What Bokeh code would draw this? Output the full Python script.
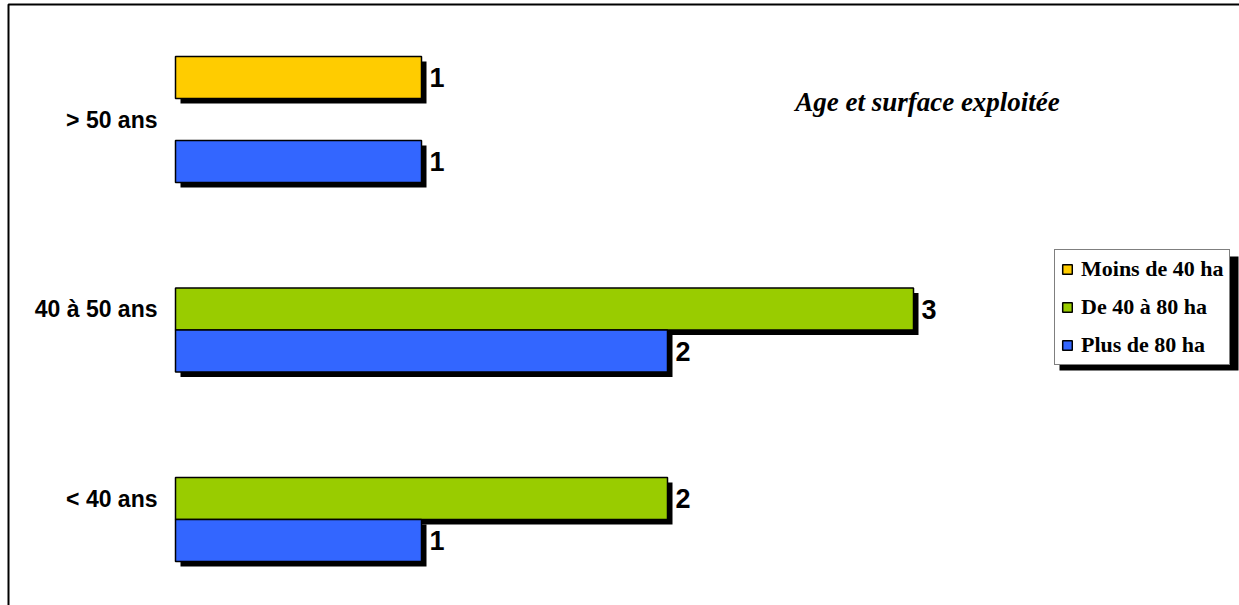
from bokeh.plotting import figure
from bokeh.models import ColumnDataSource, Range1d, Legend, LegendItem, Label
from bokeh.core.properties import value
from bokeh.embed import file_html
from bokeh.resources import INLINE

# ---- data ----
categories = ["< 40 ans", "40 à 50 ans", "> 50 ans"]
series_names = ["Moins de 40 ha", "De 40 à 80 ha", "Plus de 80 ha"]
moins_40 = [0, 0, 1]
de_40_80 = [2, 3, 0]
plus_80 = [1, 2, 1]
series_colors = ["#FFCC00", "#99CC00", "#3366FF"]
title_text = "Age et surface exploitée"

# ---- layout constants (pixels) ----
W, H = 1239, 605
X0, SX = 175.0, 246.0      # pixel of value 0, pixels per unit
Y0, SY = 498.0, 189.5      # pixel of first category centre, pixels per category


def px2x(px):
    return (px - X0) / SX


def py2y(py):
    return (Y0 - py) / SY


BAR_H = 42.0 / SY
offsets = [BAR_H, 0.0, -BAR_H]
SDX, SDY = 5.0 / SX, 5.0 / SY

p = figure(width=W, height=H,
           x_range=Range1d(px2x(0), px2x(W)),
           y_range=Range1d(py2y(H), py2y(0)),
           output_backend="svg", toolbar_location=None,
           min_border=0, x_axis_location=None, y_axis_location=None,
           outline_line_color=None, background_fill_color="white",
           border_fill_color="white")
p.grid.grid_line_color = None

# outer frame (top and left edges visible)
p.quad(left=px2x(8), right=px2x(W + 40), top=py2y(4), bottom=py2y(H + 40),
       fill_color=None, line_color="black", line_width=2)

items = []
for name, vals, col, off in zip(series_names, [moins_40, de_40_80, plus_80],
                                series_colors, offsets):
    ys = [i + off for i, v in enumerate(vals) if v > 0]
    vs = [v for v in vals if v > 0]
    src = ColumnDataSource(dict(
        y=ys, v=vs,
        sy=[y - SDY for y in ys],
        sr=[v + SDX for v in vs],
        lbl=[str(v) for v in vs]))
    p.hbar(y="sy", left=SDX, right="sr", height=BAR_H, source=src,
           fill_color="black", line_color=None)
    r = p.hbar(y="y", left=0, right="v", height=BAR_H, source=src,
               fill_color=col, line_color="black", line_width=1.5)
    p.text(x="v", y="y", text="lbl", source=src, x_offset=8,
           text_baseline="middle", text_align="left",
           text_font=value("Liberation Sans"), text_font_style="bold",
           text_font_size="27px", text_color="black")
    items.append(LegendItem(label=name, renderers=[r]))

# category labels
p.text(x=[0] * len(categories), y=list(range(len(categories))), text=categories,
       x_offset=-18, text_align="right", text_baseline="middle",
       text_font=value("Liberation Sans"), text_font_style="bold",
       text_font_size="23px", text_color="black")

# title
p.add_layout(Label(x=px2x(927), y=py2y(101), text=title_text,
                   text_align="center", text_baseline="alphabetic",
                   text_font="Liberation Serif", text_font_style="bold italic",
                   text_font_size="27px", text_color="black"))

# legend shadow
LEG_L, LEG_T, LEG_R, LEG_B = 1054, 251, 1233, 365
p.quad(left=px2x(LEG_L + 5), right=px2x(LEG_R + 5), top=py2y(LEG_T + 5),
       bottom=py2y(LEG_B + 5), fill_color="black", line_color=None)

legend = Legend(items=items, location=(LEG_L, H - LEG_B), margin=0,
                border_line_color="black", border_line_width=1.5,
                background_fill_color="white", background_fill_alpha=1.0,
                label_text_font="Liberation Serif", label_text_font_style="bold",
                label_text_font_size="22px", label_text_color="black",
                label_standoff=8,
                glyph_width=12, glyph_height=12, padding=6, spacing=12)
p.add_layout(legend)

open("out.html", "w").write(file_html(p, INLINE))
